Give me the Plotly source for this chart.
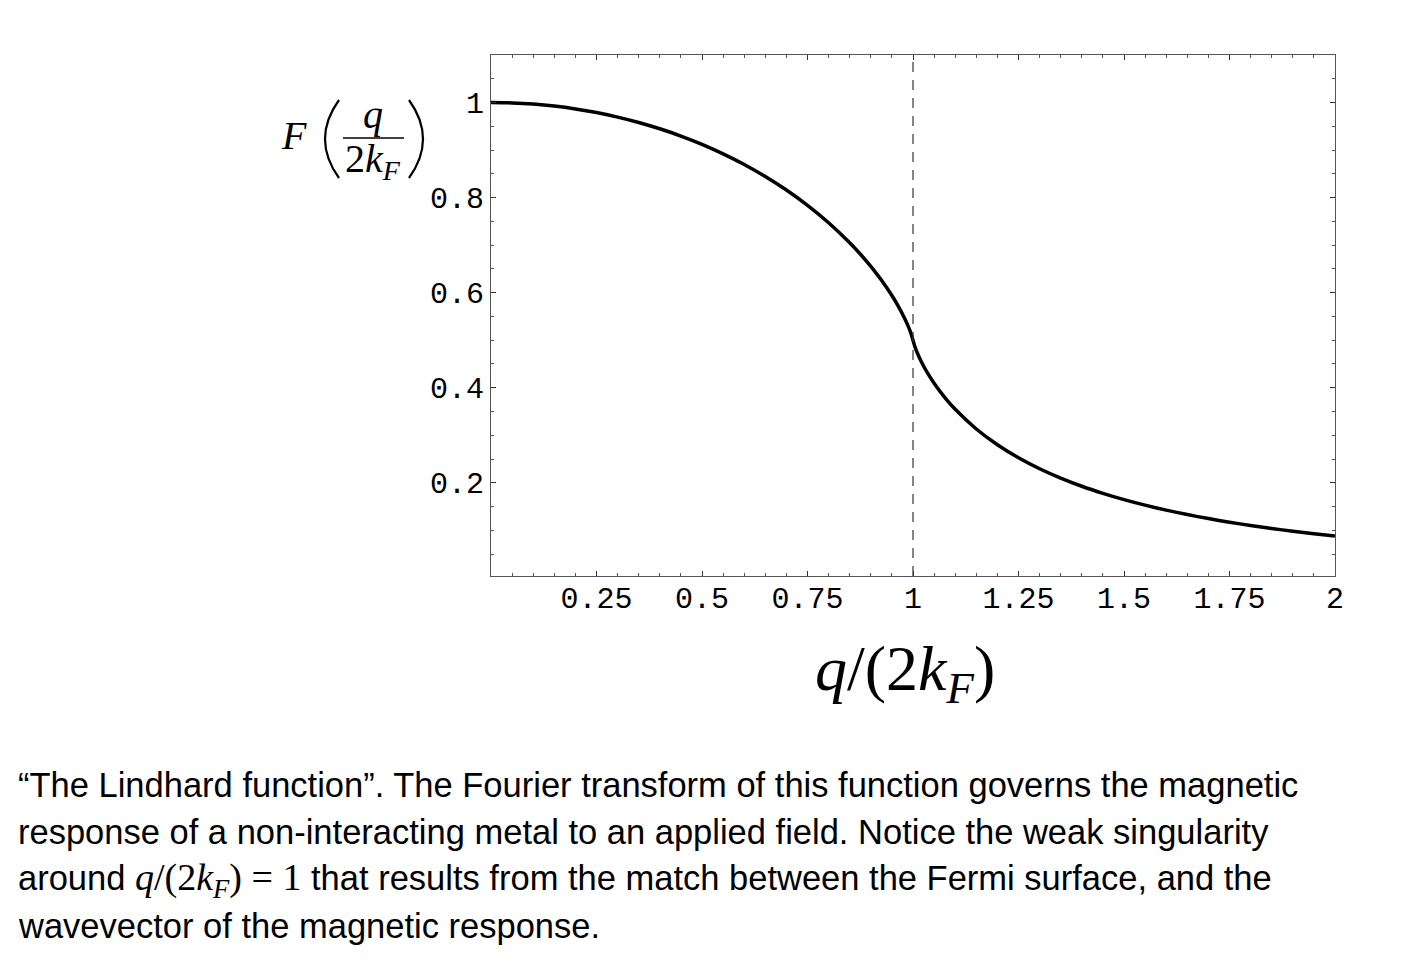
import plotly.graph_objects as go

# ---- data ----
q_over_2kf = [0.0, 0.05, 0.1, 0.15, 0.2, 0.25, 0.3, 0.35, 0.4, 0.45, 0.5, 0.55, 0.6,
              0.65, 0.7, 0.75, 0.8, 0.85, 0.875, 0.9, 0.925, 0.95, 0.965, 0.98, 0.99,
              0.995, 1.0, 1.005, 1.01, 1.02, 1.035, 1.05, 1.075, 1.1, 1.15, 1.2, 1.25,
              1.3, 1.35, 1.4, 1.45, 1.5, 1.55, 1.6, 1.65, 1.7, 1.75, 1.8, 1.85, 1.9,
              1.95, 2.0]
lindhard_F = [1.0, 0.9992, 0.9967, 0.9925, 0.9866, 0.9789, 0.9694, 0.9581, 0.9448, 0.9295,
              0.9120, 0.8921, 0.8697, 0.8444, 0.8159, 0.7838, 0.7472, 0.7051, 0.6813,
              0.6554, 0.6266, 0.5940, 0.5718, 0.5464, 0.5266, 0.5150, 0.5, 0.4851,
              0.4736, 0.4543, 0.4301, 0.4094, 0.3798, 0.3547, 0.3133, 0.2802, 0.2528,
              0.2297, 0.2100, 0.1928, 0.1779, 0.1647, 0.1530, 0.1426, 0.1332, 0.1248,
              0.1172, 0.1102, 0.1039, 0.0982, 0.0929, 0.0880]
singular_x = 1.0
x_tickvals = [0.25, 0.5, 0.75, 1.0, 1.25, 1.5, 1.75, 2.0]
x_ticktext = ["0.25", "0.5", "0.75", "1", "1.25", "1.5", "1.75", "2"]
y_tickvals = [0.2, 0.4, 0.6, 0.8, 1.0]
y_ticktext = ["0.2", "0.4", "0.6", "0.8", "1"]

caption_lines = [
    "\u201cThe Lindhard function\u201d. The Fourier transform of this function governs the magnetic",
    "response of a non-interacting metal to an applied field. Notice the weak singularity",
    "around <span style=\"font-family:'Liberation Serif';font-size:38px\">"
    "<i>q</i>/(2<i>k<sub>F</sub></i>)\u00a0=\u00a01</span>"
    " that results from the match between the Fermi surface, and the",
    "wavevector of the magnetic response.",
]

# ---- layout geometry (pixels) ----
W_PX, H_PX = 1416, 968
L, T, PW, PH = 491, 55, 844, 521


def px(x):
    return (x - L) / PW


def py(y):
    return (T + PH - y) / PH


fig = go.Figure()
fig.add_trace(go.Scatter(x=q_over_2kf, y=lindhard_F, mode="lines",
                         line=dict(color="black", width=3.5, shape="spline", smoothing=0.6),
                         showlegend=False, hoverinfo="skip"))
fig.add_vline(x=singular_x, line=dict(color="#333333", width=1.2, dash="10px,8px"))

tickfont = dict(family="Liberation Mono", size=30, color="black")
axis_common = dict(showgrid=False, zeroline=False, showline=True, linecolor="#555555",
                   linewidth=1, mirror="allticks", ticks="inside", ticklen=5,
                   tickcolor="#333333", tickwidth=1, tickfont=tickfont)
fig.update_xaxes(range=[0, 2], tickmode="array", tickvals=x_tickvals, ticktext=x_ticktext,
                 minor=dict(dtick=0.05, ticks="inside", ticklen=3, tickcolor="#555555"),
                 ticklabelstandoff=-5,
                 **axis_common)
fig.update_yaxes(range=[0.004, 1.1], tickmode="array", tickvals=y_tickvals,
                 ticktext=y_ticktext,
                 minor=dict(dtick=0.05, ticks="inside", ticklen=3, tickcolor="#555555"),
                 **axis_common)

ann = []
serif = "Liberation Serif"
# y-axis label F(q/(2k_F))
ann.append(dict(text="<i>F</i>", x=px(294), y=py(135), font=dict(family=serif, size=40)))
ann.append(dict(text="<i>q</i>", x=px(373), y=py(115), font=dict(family=serif, size=40)))
ann.append(dict(text="2<i>k<sub>F</sub></i>", x=px(373), y=py(161),
                font=dict(family=serif, size=40)))
# x-axis title
ann.append(dict(text="<i>q</i>/(2<i>k<sub>F</sub></i>)", x=px(905), y=py(673),
                font=dict(family=serif, size=64)))
for a in ann:
    a.update(xref="paper", yref="paper", showarrow=False, xanchor="center",
             yanchor="middle")
    a["font"]["color"] = "black"

cap_y = [785, 832, 880, 926]
for line, yy in zip(caption_lines, cap_y):
    ann.append(dict(text=line, x=px(16), y=py(yy), xref="paper", yref="paper",
                    showarrow=False, xanchor="left", yanchor="middle",
                    font=dict(family="Liberation Sans", size=34.5, color="black")))

fig.update_layout(
    width=W_PX, height=H_PX,
    margin=dict(l=L, r=W_PX - L - PW, t=T, b=H_PX - T - PH, pad=0),
    paper_bgcolor="white", plot_bgcolor="white",
    annotations=ann,
)

# fraction bar and thin parentheses of the y-axis label
fig.add_shape(type="line", xref="paper", yref="paper", x0=px(343), x1=px(404),
              y0=py(138), y1=py(138), line=dict(color="black", width=1.5))


def paren_path(x_end, x_mid, y_top, y_bot):
    ym = (y_top + y_bot) / 2
    return (f"M {px(x_end)},{py(y_top)} Q {px(x_mid)},{py(ym)} {px(x_end)},{py(y_bot)}")


fig.add_shape(type="path", xref="paper", yref="paper",
              path=paren_path(339, 311, 100, 178), line=dict(color="black", width=2.2))
fig.add_shape(type="path", xref="paper", yref="paper",
              path=paren_path(409, 437, 100, 178), line=dict(color="black", width=2.2))

fig.write_html("out.html")
